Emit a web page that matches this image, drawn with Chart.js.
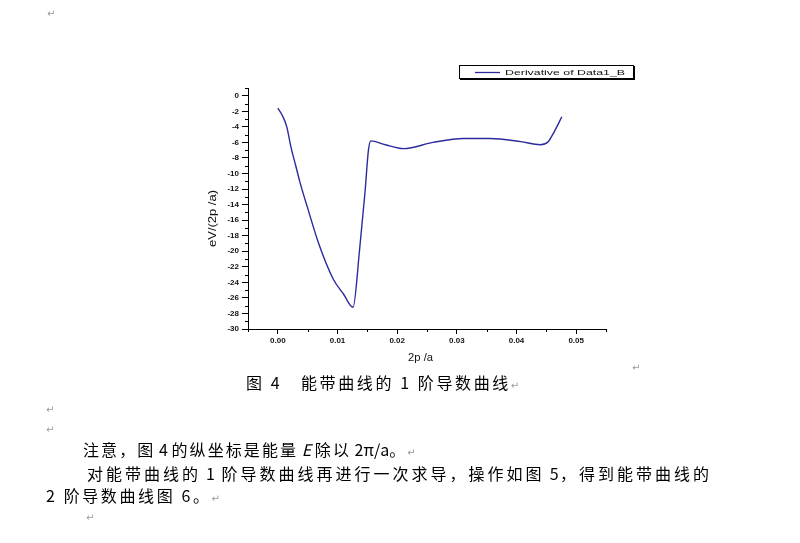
<!DOCTYPE html>
<html>
<head>
<meta charset="utf-8">
<script src="https://cdn.jsdelivr.net/npm/chart.js@4"></script>
<style>
  body { margin: 0; background: #fff; width: 800px; height: 543px; overflow: hidden; position: relative; }
  #chart { position: absolute; left: 0; top: 0; }
  .t { position: absolute; font-family: "Noto Sans CJK SC", sans-serif; font-size: 16px; line-height: 20px;
       letter-spacing: 2.6px; color: #000; white-space: nowrap; }
  .l { letter-spacing: 0; }
  .r { font-family: "DejaVu Sans", sans-serif; font-size: 10px; color: #999; letter-spacing: 0; }
</style>
</head>
<body>
<canvas id="chart" width="800" height="543"></canvas>

<div class="t r" style="left:47px;top:4px;">↵</div>
<div class="t r" style="left:632px;top:358px;">↵</div>
<div class="t" style="left:246px;top:372px;">图 4</div>
<div class="t" style="left:301px;top:372px;">能带曲线的 1 阶导数曲线<span class="r">↵</span></div>
<div class="t r" style="left:46px;top:400px;">↵</div>
<div class="t r" style="left:46px;top:420px;">↵</div>
<div class="t" style="left:83px;top:439px;letter-spacing:2.1px;">注意，图<span class="l"> 4 </span>的纵坐标是能量<span class="l"> <i>E</i> </span>除以<span class="l"> 2π/a</span>。<span class="r">↵</span></div>
<div class="t" style="left:87px;top:463px;letter-spacing:3px;">对能带曲线的<span class="l" style="letter-spacing:1.5px;"> 1 </span>阶导数曲线再进行一次求导，操作如图<span class="l" style="letter-spacing:1.5px;"> 5</span>，得到能带曲线的</div>
<div class="t" style="left:46px;top:485px;">2 阶导数曲线图 6。<span class="r">↵</span></div>
<div class="t r" style="left:86px;top:508px;">↵</div>

<script>
const seriesLabel = "Derivative of Data1_B";
const xValues = [0.0000, 0.0008, 0.0015, 0.0022, 0.0030, 0.0037, 0.0049, 0.0068, 0.0093, 0.0110, 0.0126,
                 0.0137, 0.0146, 0.0152, 0.0156, 0.0180, 0.0211, 0.0260, 0.0311, 0.0356, 0.0407, 0.0440,
                 0.0453, 0.0462, 0.0476];
const yValues = [-1.6, -2.6, -4.0, -6.6, -9.0, -11.1, -14.2, -18.9, -23.6, -25.5, -27.2,
                 -19.8, -12.5, -6.9, -5.8, -6.3, -6.8, -6.0, -5.5, -5.5, -5.9, -6.3,
                 -5.9, -4.8, -2.7];
const xTicks = [0, 0.01, 0.02, 0.03, 0.04, 0.05];
const yTicks = [0, -2, -4, -6, -8, -10, -12, -14, -16, -18, -20, -22, -24, -26, -28, -30];
const xMinor = [-0.005, 0.005, 0.015, 0.025, 0.035, 0.045, 0.055];
const yMinor = [1, -1, -3, -5, -7, -9, -11, -13, -15, -17, -19, -21, -23, -25, -27, -29];
const xTitle = "2p /a";
const yTitle = "eV/(2p /a)";

const lineColor = '#2b2b9e';
const tickFont = { family: 'Liberation Sans', size: 8, weight: 'bold' };

// stretched text, like the scanned Origin labels
function wideText(ctx, txt, x, y, w, font) {
    ctx.save();
    ctx.font = font;
    const m = ctx.measureText(txt).width;
    ctx.translate(x, y);
    ctx.scale(w / m, 1);
    ctx.fillText(txt, 0, 0);
    ctx.restore();
}

const extras = {
    id: 'extras',
    afterDraw(chart) {
        const ctx = chart.ctx, xs = chart.scales.x, ys = chart.scales.y;
        const area = chart.chartArea;
        ctx.save();
        ctx.strokeStyle = '#000';
        ctx.lineWidth = 1;
        ctx.beginPath();
        xMinor.forEach(v => {
            const px = Math.round(xs.getPixelForValue(v)) + 0.5;
            ctx.moveTo(px, area.bottom); ctx.lineTo(px, area.bottom + 3);
        });
        yMinor.forEach(v => {
            const py = Math.round(ys.getPixelForValue(v)) + 0.5;
            ctx.moveTo(area.left, py); ctx.lineTo(area.left - 3, py);
        });
        ctx.stroke();

        // axis titles
        ctx.fillStyle = '#111';
        ctx.textBaseline = 'middle';
        wideText(ctx, xTitle, 408, 358, 25, '10px "Liberation Sans"');
        ctx.save();
        ctx.translate(213, 247);
        ctx.rotate(-Math.PI / 2);
        wideText(ctx, yTitle, 0, 0, 57, '10px "Liberation Sans"');
        ctx.restore();

        // legend box
        ctx.strokeStyle = '#000';
        ctx.strokeRect(459.5, 65.5, 174, 13);
        ctx.beginPath();
        ctx.moveTo(460, 79.5); ctx.lineTo(634, 79.5);
        ctx.moveTo(634.5, 66); ctx.lineTo(634.5, 80);
        ctx.stroke();
        ctx.strokeStyle = lineColor;
        ctx.lineWidth = 1.3;
        ctx.beginPath();
        ctx.moveTo(475, 72.5); ctx.lineTo(500, 72.5);
        ctx.stroke();
        ctx.fillStyle = '#111';
        wideText(ctx, chart.data.datasets[0].label, 505, 72.5, 120, '8px "Liberation Sans"');
        ctx.restore();
    }
};

new Chart(document.getElementById('chart'), {
    type: 'line',
    data: {
        datasets: [{
            label: seriesLabel,
            data: xValues.map((x, i) => ({ x: x, y: yValues[i] })),
            borderColor: lineColor,
            borderWidth: 1.4,
            pointRadius: 0,
            fill: false,
            cubicInterpolationMode: 'monotone'
        }]
    },
    options: {
        responsive: false,
        animation: false,
        devicePixelRatio: 1,
        layout: { padding: { left: 198, right: 194, top: 88, bottom: 174 } },
        plugins: { legend: { display: false }, tooltip: { enabled: false } },
        scales: {
            x: {
                type: 'linear',
                min: -0.005,
                max: 0.055,
                afterFit: s => { s.height = 40; },
                afterBuildTicks: s => { s.ticks = xTicks.map(v => ({ value: v })); },
                ticks: {
                    callback: v => v.toFixed(2),
                    font: tickFont, color: '#111', padding: 2,
                    autoSkip: false, maxRotation: 0
                },
                grid: { drawOnChartArea: false, drawTicks: true, tickLength: 5, color: '#000' },
                border: { display: true, color: '#000', width: 1 }
            },
            y: {
                min: -30,
                max: 1,
                afterFit: s => { s.width = 50; },
                afterBuildTicks: s => { s.ticks = yTicks.map(v => ({ value: v })); },
                ticks: { font: tickFont, color: '#111', padding: 3, autoSkip: false },
                grid: { drawOnChartArea: false, drawTicks: true, tickLength: 6, color: '#000' },
                border: { display: true, color: '#000', width: 1 }
            }
        }
    },
    plugins: [extras]
});
</script>
</body>
</html>
